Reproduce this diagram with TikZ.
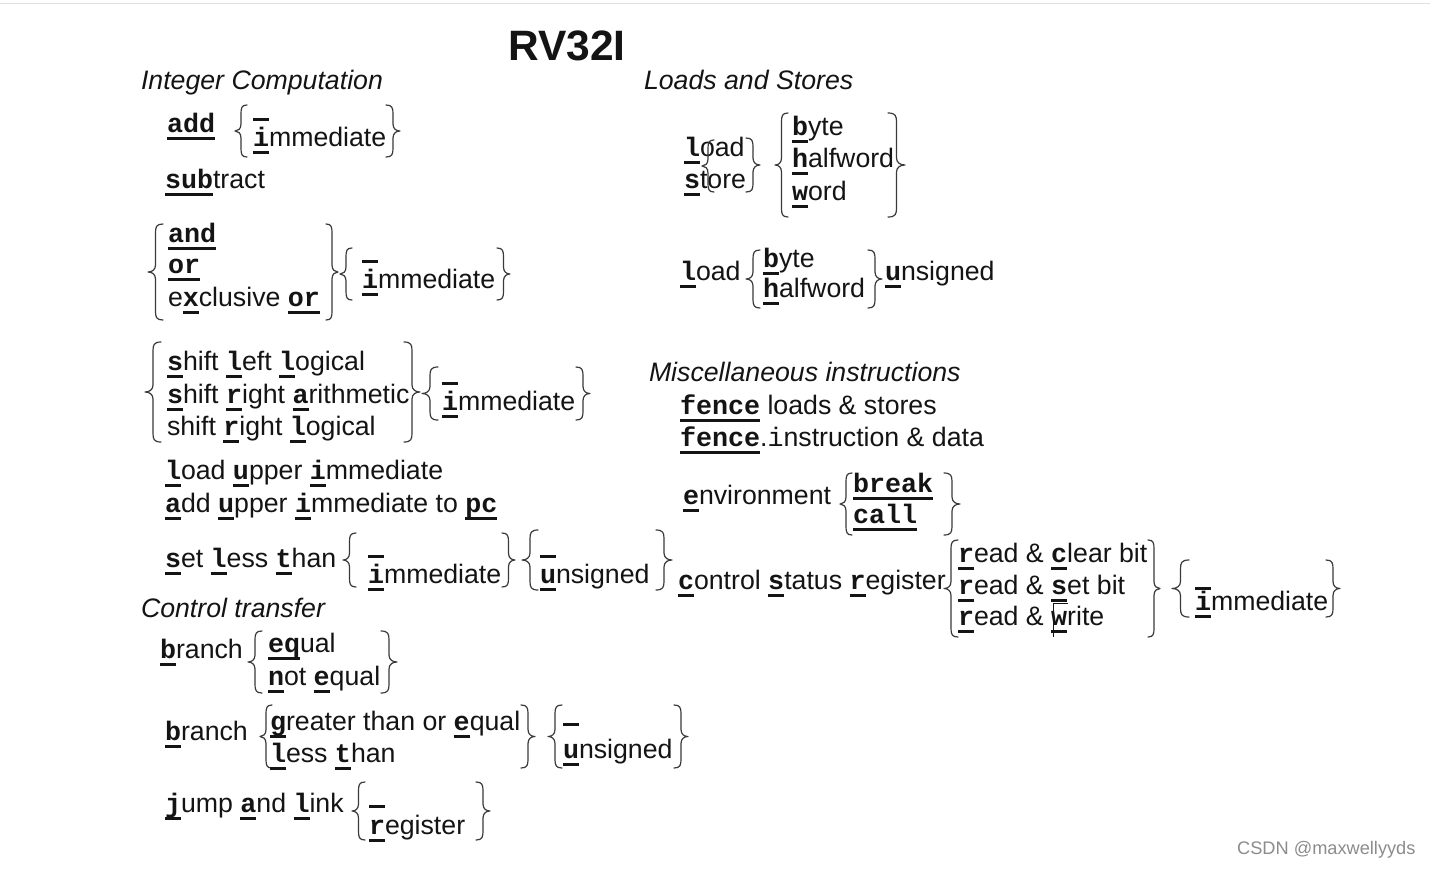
\documentclass[tikz,border=0pt]{standalone}
\usepackage{fontspec}
\setmainfont{Liberation Sans}
\newfontfamily\mono{Liberation Mono}
\usetikzlibrary{calc}
\definecolor{ink}{HTML}{141414}
\definecolor{brcol}{HTML}{3A3A3A}
\newcommand\fs{\fontsize{26.7}{32}\selectfont}
\newcommand\cu[1]{\setbox0=\hbox{\mono\bfseries #1}\rlap{\rule[-8pt]{\wd0}{2.7pt}}\box0\relax}
\tikzset{
  tx/.style={anchor=base west, inner sep=0pt, outer sep=0pt, font=\fs, text=ink},
  hd/.style={tx, font=\fs\itshape},
  brc/.style={draw=brcol, line width=1.2pt, line cap=round, line join=round},
}
% left brace "{": tip x, top y, bottom y, width
\newcommand\LB[4][12]{%
  \draw[brc] ({#2+#1},#3) .. controls ({#2+#1*0.55},#3) and ({#2+#1*0.5},{#3+3}) .. ({#2+#1*0.5},{#3+9})
    -- ({#2+#1*0.5},{(#3+#4)/2-7}) .. controls ({#2+#1*0.5},{(#3+#4)/2-2}) and ({#2+#1*0.25},{(#3+#4)/2}) .. (#2,{(#3+#4)/2})
    .. controls ({#2+#1*0.25},{(#3+#4)/2}) and ({#2+#1*0.5},{(#3+#4)/2+2}) .. ({#2+#1*0.5},{(#3+#4)/2+7})
    -- ({#2+#1*0.5},{#4-9}) .. controls ({#2+#1*0.5},{#4-3}) and ({#2+#1*0.55},#4) .. ({#2+#1},#4);}
% right brace "}": tip x, top y, bottom y, width
\newcommand\RB[4][12]{%
  \draw[brc] ({#2-#1},#3) .. controls ({#2-#1*0.55},#3) and ({#2-#1*0.5},{#3+3}) .. ({#2-#1*0.5},{#3+9})
    -- ({#2-#1*0.5},{(#3+#4)/2-7}) .. controls ({#2-#1*0.5},{(#3+#4)/2-2}) and ({#2-#1*0.25},{(#3+#4)/2}) .. (#2,{(#3+#4)/2})
    .. controls ({#2-#1*0.25},{(#3+#4)/2}) and ({#2-#1*0.5},{(#3+#4)/2+2}) .. ({#2-#1*0.5},{(#3+#4)/2+7})
    -- ({#2-#1*0.5},{#4-9}) .. controls ({#2-#1*0.5},{#4-3}) and ({#2-#1*0.55},#4) .. ({#2-#1},#4);}
\begin{document}
\begin{tikzpicture}[x=1pt,y=-1pt]
\useasboundingbox[fill=white] (0,0) rectangle (1430,868);
\draw[draw=black!12, line width=1pt] (0,3.5) -- (1430,3.5);
% title and headings
\node[anchor=base, inner sep=0pt, font=\fontsize{42.5}{50}\bfseries\selectfont, text=ink] (title) at (567,60) {RV32I};
\node[hd] (h1) at (141,89) {Integer Computation};
\node[hd] (h2) at (141,617) {Control transfer};
\node[hd] (h3) at (644,89) {Loads and Stores};
\node[hd] (h4) at (649,381) {Miscellaneous instructions};
% ---- add / subtract
\node[tx] (add) at (167,132) {\cu{add}};
\LB[12]{235}{105}{157}
\node[tx] (i1b) at (253,113) {\cu{\ }};
\node[tx] (i1) at (253,146) {\cu{i}mmediate};
\RB[14]{400}{105}{157}
\node[tx] (sub) at (165,188) {\cu{sub}tract};
% ---- logical
\LB[15]{148}{224}{320}
\node[tx] (and) at (168,242) {\cu{and}};
\node[tx] (or) at (168,273) {\cu{or}};
\node[tx] (xor) at (168,306) {e\cu{x}clusive \cu{or}};
\RB[12]{338}{224}{320}
\LB[12]{340}{248}{300}
\node[tx] (i2b) at (362,255) {\cu{\ }};
\node[tx] (i2) at (362,288) {\cu{i}mmediate};
\RB[13]{510}{248}{300}
% ---- shifts
\LB[16]{145}{342}{442}
\node[tx] (sll) at (167,370) {\cu{s}hift \cu{l}eft \cu{l}ogical};
\node[tx] (sra) at (167,403) {\cu{s}hift \cu{r}ight \cu{a}rithmetic};
\node[tx] (srl) at (167,435) {shift \cu{r}ight \cu{l}ogical};
\RB[16]{420}{342}{442}
\LB[16]{422}{367}{420}
\node[tx] (i3b) at (442,377) {\cu{\ }};
\node[tx] (i3) at (442,410) {\cu{i}mmediate};
\RB[14]{590}{367}{420}
% ---- upper immediates
\node[tx] (lui) at (165,479) {\cu{l}oad \cu{u}pper \cu{i}mmediate};
\node[tx] (auipc) at (165,512) {\cu{a}dd \cu{u}pper \cu{i}mmediate to \cu{pc}};
% ---- set less than
\node[tx] (slt) at (165,567) {\cu{s}et \cu{l}ess \cu{t}han};
\LB[13]{343}{533}{587}
\node[tx] (i4b) at (368,550) {\cu{\ }};
\node[tx] (i4) at (368,583) {\cu{i}mmediate};
\RB[13]{515}{533}{587}
\LB[16]{522}{530}{590}
\node[tx] (u1b) at (540,550) {\cu{\ }};
\node[tx] (u1) at (540,583) {\cu{u}nsigned};
\RB[16]{672}{530}{590}
% ---- branches
\node[tx] (b1) at (160,658) {\cu{b}ranch};
\LB[14]{248}{631}{693}
\node[tx] (beq) at (268,652) {\cu{eq}ual};
\node[tx] (bne) at (268,685) {\cu{n}ot \cu{e}qual};
\RB[16]{397}{631}{693}
\node[tx] (b2) at (165,740) {\cu{b}ranch};
\LB[12]{260}{705}{768}
\node[tx] (bge) at (270,730) {\cu{g}reater than or \cu{e}qual};
\node[tx] (blt) at (270,762) {\cu{l}ess \cu{t}han};
\RB[14]{535}{705}{768}
\LB[14]{548}{705}{768}
\node[tx] (u2b) at (563,718) {\cu{\ }};
\node[tx] (u2) at (563,758) {\cu{u}nsigned};
\RB[14]{688}{705}{768}
\node[tx] (jal) at (165,812) {\cu{j}ump \cu{a}nd \cu{l}ink};
\LB[13]{352}{782}{840}
\node[tx] (rb) at (369,800) {\cu{\ }};
\node[tx] (r) at (369,834) {\cu{r}egister};
\RB[14]{490}{782}{840}
% ---- loads and stores
\node[tx] (ld) at (684,156) {\cu{l}oad};
\node[tx] (st) at (684,188) {\cu{s}tore};
\LB[12]{702}{140}{192}
\RB[14]{760}{138}{192}
\LB[13]{775}{113}{217}
\node[tx] (byte) at (792,135) {\cu{b}yte};
\node[tx] (half) at (792,167) {\cu{h}alfword};
\node[tx] (word) at (792,200) {\cu{w}ord};
\RB[17]{905}{113}{217}
\node[tx] (ld2) at (680,280) {\cu{l}oad};
\LB[14]{746}{250}{308}
\node[tx] (byte2) at (763,267) {\cu{b}yte};
\node[tx] (half2) at (763,297) {\cu{h}alfword};
\RB[14]{882}{250}{308}
\node[tx] (uns3) at (885,280) {\cu{u}nsigned};
% ---- miscellaneous
\node[tx] (fence) at (680,414) {\cu{fence} loads \& stores};
\node[tx] (fencei) at (680,446) {\cu{fence}.{\mono i}nstruction \& data};
\node[tx] (env) at (683,504) {\cu{e}nvironment};
\LB[12]{840}{473}{535}
\node[tx] (ebreak) at (853,492) {\cu{break}};
\node[tx] (ecall) at (853,523) {\cu{call}};
\RB[16]{960}{473}{535}
\node[tx] (csr) at (678,589) {\cu{c}ontrol \cu{s}tatus \cu{r}egister};
\LB[14]{944}{540}{637}
\node[tx] (rc) at (958,562) {\cu{r}ead \& \cu{c}lear bit};
\node[tx] (rs) at (958,594) {\cu{r}ead \& \cu{s}et bit};
\node[tx] (rw) at (958,625) {\cu{r}ead \& \cu{w}rite};
\draw[draw=ink, line width=1pt] (1068,603) -- (1053,603) -- (1053,637);
\RB[12]{1160}{540}{637}
\LB[17]{1172}{560}{617}
\node[tx] (i5b) at (1195,582) {\cu{\ }};
\node[tx] (i5) at (1195,610) {\cu{i}mmediate};
\RB[14]{1340}{560}{617}
% watermark
\node[anchor=base west, inner sep=0pt, font=\fontsize{18.2}{22}\selectfont, text=black!45] (wm) at (1237,854) {CSDN @maxwellyyds};
\end{tikzpicture}
\end{document}
